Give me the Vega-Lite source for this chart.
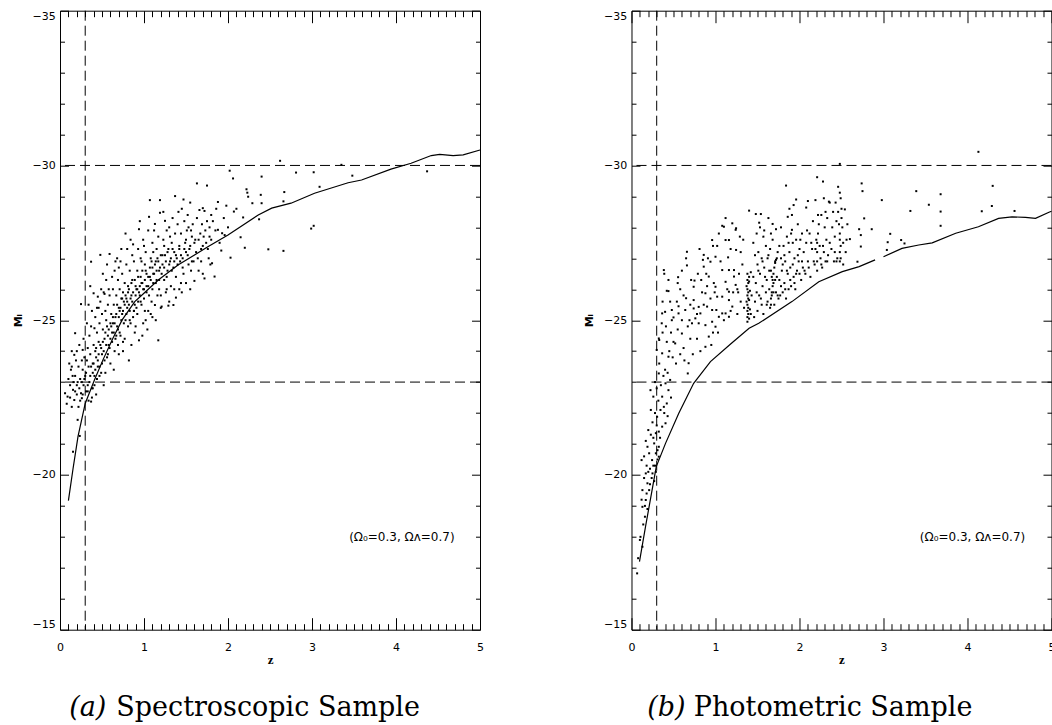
{
"$schema":"https://vega.github.io/schema/vega-lite/v6.json",
"padding":{"left":12,"top":9.7,"right":0,"bottom":0},
"config":{"view":{"stroke":null},"axis":{"grid":false,"labelFont":"DejaVu Sans","labelFontSize":11,"labelColor":"black","tickColor":"black","domainColor":"black","titleColor":"black","tickWidth":1,"domainWidth":1}},
"datasets":{
"thresh":[{"M":-30},{"M":-23}],
"specCurve":[{"z":0.10,"M":-19.17},{"z":0.155,"M":-20.2},{"z":0.214,"M":-21.24},{"z":0.30,"M":-22.31},{"z":0.41,"M":-23.07},{"z":0.51,"M":-23.71},{"z":0.63,"M":-24.42},{"z":0.74,"M":-25.01},{"z":0.89,"M":-25.6},{"z":0.97,"M":-25.8},{"z":1.17,"M":-26.30},{"z":1.405,"M":-26.78},{"z":1.76,"M":-27.37},{"z":2.0,"M":-27.75},{"z":2.36,"M":-28.40},{"z":2.52,"M":-28.62},{"z":2.75,"M":-28.78},{"z":3.03,"M":-29.10},{"z":3.43,"M":-29.44},{"z":3.59,"M":-29.53},{"z":3.94,"M":-29.88},{"z":4.18,"M":-30.07},{"z":4.42,"M":-30.32},{"z":4.52,"M":-30.36},{"z":4.68,"M":-30.32},{"z":4.80,"M":-30.34},{"z":5.0,"M":-30.50}],
"photCurve":[{"z":0.095,"M":-17.2,"seg":1},{"z":0.167,"M":-18.33,"seg":1},{"z":0.245,"M":-19.51,"seg":1},{"z":0.295,"M":-20.27,"seg":1},{"z":0.405,"M":-21.02,"seg":1},{"z":0.563,"M":-21.99,"seg":1},{"z":0.74,"M":-22.96,"seg":1},{"z":0.94,"M":-23.66,"seg":1},{"z":1.18,"M":-24.23,"seg":1},{"z":1.40,"M":-24.74,"seg":1},{"z":1.515,"M":-24.90,"seg":1},{"z":1.91,"M":-25.60,"seg":1},{"z":2.23,"M":-26.24,"seg":1},{"z":2.51,"M":-26.57,"seg":1},{"z":2.71,"M":-26.73,"seg":1},{"z":2.90,"M":-26.95,"seg":1},{"z":3.00,"M":-27.05,"seg":2},{"z":3.22,"M":-27.32,"seg":2},{"z":3.42,"M":-27.43,"seg":2},{"z":3.58,"M":-27.50,"seg":2},{"z":3.86,"M":-27.81,"seg":2},{"z":4.13,"M":-28.02,"seg":2},{"z":4.37,"M":-28.29,"seg":2},{"z":4.53,"M":-28.34,"seg":2},{"z":4.69,"M":-28.32,"seg":2},{"z":4.81,"M":-28.29,"seg":2},{"z":4.97,"M":-28.49,"seg":2},{"z":5.0,"M":-28.52,"seg":2}],
"spec":[
{"z":0.06,"M":-22.64},{"z":0.09,"M":-22.53},{"z":0.12,"M":-22.9},{"z":0.13,"M":-23.4},{"z":0.14,"M":-22.2},{"z":0.155,"M":-22.75},{"z":0.155,"M":-20.75},{"z":0.10,"M":-23.1},{"z":0.08,"M":-22.3},{"z":0.11,"M":-23.6},{"z":0.14,"M":-24.0},{"z":0.17,"M":-23.88},{"z":0.18,"M":-24.58},{"z":0.25,"M":-25.52},{"z":0.27,"M":-24.04},
{"z":0.17,"M":-22.42},{"z":0.21,"M":-21.78},{"z":0.235,"M":-21.26},{"z":0.25,"M":-22.64},{"z":0.26,"M":-22.48},{"z":0.18,"M":-23.2},{"z":0.20,"M":-22.9},{"z":0.22,"M":-23.5},{"z":0.24,"M":-23.1},{"z":0.19,"M":-23.7},{"z":0.27,"M":-23.4},{"z":0.28,"M":-22.9},{"z":0.23,"M":-24.2},{"z":0.29,"M":-23.8},{"z":0.20,"M":-22.6},{"z":0.16,"M":-23.0},{"z":0.26,"M":-23.0},{"z":0.28,"M":-24.4},{"z":0.30,"M":-23.2},{"z":0.22,"M":-22.2},
{"z":0.31,"M":-23.3},{"z":0.32,"M":-23.7},{"z":0.33,"M":-24.1},{"z":0.34,"M":-23.5},{"z":0.35,"M":-24.5},{"z":0.36,"M":-23.9},{"z":0.37,"M":-22.37},{"z":0.38,"M":-22.5},{"z":0.37,"M":-24.8},{"z":0.38,"M":-25.3},{"z":0.39,"M":-23.6},{"z":0.40,"M":-24.2},{"z":0.41,"M":-24.74},{"z":0.40,"M":-25.87},{"z":0.42,"M":-25.1},{"z":0.43,"M":-23.8},{"z":0.44,"M":-24.6},{"z":0.45,"M":-25.76},{"z":0.32,"M":-24.9},{"z":0.34,"M":-25.5},{"z":0.36,"M":-26.1},{"z":0.37,"M":-26.89},{"z":0.39,"M":-22.8},{"z":0.41,"M":-23.2},{"z":0.43,"M":-22.6},{"z":0.44,"M":-25.4},{"z":0.35,"M":-23.0},{"z":0.42,"M":-24.0},{"z":0.33,"M":-22.7},{"z":0.45,"M":-23.5},
{"z":0.46,"M":-24.3},{"z":0.47,"M":-24.9},{"z":0.48,"M":-27.11},{"z":0.48,"M":-25.6},{"z":0.49,"M":-24.1},{"z":0.50,"M":-25.2},{"z":0.50,"M":-23.6},{"z":0.51,"M":-24.7},{"z":0.52,"M":-25.9},{"z":0.53,"M":-25.85},{"z":0.53,"M":-24.4},{"z":0.54,"M":-23.3},{"z":0.55,"M":-25.0},{"z":0.55,"M":-26.3},{"z":0.56,"M":-24.8},{"z":0.57,"M":-25.5},{"z":0.58,"M":-24.2},{"z":0.59,"M":-27.14},{"z":0.59,"M":-25.8},{"z":0.60,"M":-23.6},{"z":0.47,"M":-23.2},{"z":0.52,"M":-22.9},{"z":0.56,"M":-26.8},{"z":0.58,"M":-26.0},{"z":0.46,"M":-25.4},{"z":0.60,"M":-24.9},{"z":0.51,"M":-26.5},{"z":0.54,"M":-25.3},{"z":0.57,"M":-23.9},{"z":0.49,"M":-26.0},
{"z":0.61,"M":-25.2},{"z":0.62,"M":-24.6},{"z":0.63,"M":-26.0},{"z":0.64,"M":-25.5},{"z":0.65,"M":-24.0},{"z":0.65,"M":-26.6},{"z":0.66,"M":-25.1},{"z":0.67,"M":-25.8},{"z":0.68,"M":-27.0},{"z":0.68,"M":-24.8},{"z":0.69,"M":-26.3},{"z":0.70,"M":-25.4},{"z":0.70,"M":-23.9},{"z":0.71,"M":-26.0},{"z":0.72,"M":-24.5},{"z":0.72,"M":-26.9},{"z":0.73,"M":-25.7},{"z":0.74,"M":-25.2},{"z":0.74,"M":-26.5},{"z":0.75,"M":-24.3},{"z":0.62,"M":-26.4},{"z":0.64,"M":-23.4},{"z":0.66,"M":-26.9},{"z":0.69,"M":-24.2},{"z":0.71,"M":-25.3},{"z":0.73,"M":-27.3},{"z":0.67,"M":-24.5},{"z":0.75,"M":-25.9},{"z":0.63,"M":-24.9},{"z":0.70,"M":-26.7},
{"z":0.76,"M":-25.6},{"z":0.77,"M":-26.2},{"z":0.77,"M":-24.4},{"z":0.78,"M":-25.0},{"z":0.79,"M":-26.8},{"z":0.80,"M":-25.4},{"z":0.80,"M":-27.3},{"z":0.81,"M":-24.8},{"z":0.82,"M":-26.0},{"z":0.83,"M":-25.3},{"z":0.83,"M":-26.6},{"z":0.84,"M":-27.6},{"z":0.85,"M":-25.8},{"z":0.85,"M":-24.2},{"z":0.86,"M":-26.3},{"z":0.87,"M":-27.45},{"z":0.87,"M":-25.1},{"z":0.88,"M":-26.9},{"z":0.89,"M":-25.5},{"z":0.89,"M":-24.6},{"z":0.78,"M":-27.8},{"z":0.81,"M":-25.9},{"z":0.84,"M":-24.9},{"z":0.86,"M":-27.1},{"z":0.90,"M":-26.1},{"z":0.79,"M":-25.7},{"z":0.82,"M":-23.7},{"z":0.88,"M":-25.3},
{"z":0.91,"M":-26.0},{"z":0.92,"M":-26.6},{"z":0.92,"M":-25.2},{"z":0.93,"M":-27.3},{"z":0.94,"M":-27.94},{"z":0.94,"M":-24.35},{"z":0.95,"M":-25.8},{"z":0.96,"M":-26.4},{"z":0.96,"M":-27.0},{"z":0.97,"M":-25.5},{"z":0.98,"M":-26.2},{"z":0.99,"M":-27.6},{"z":0.99,"M":-24.9},{"z":1.00,"M":-26.0},{"z":1.01,"M":-26.8},{"z":1.01,"M":-25.3},{"z":1.02,"M":-27.2},{"z":1.03,"M":-25.9},{"z":1.03,"M":-26.5},{"z":1.04,"M":-24.7},{"z":1.05,"M":-27.9},{"z":1.05,"M":-26.1},{"z":0.93,"M":-25.6},{"z":0.97,"M":-26.9},{"z":1.00,"M":-27.4},{"z":1.02,"M":-25.0},{"z":0.95,"M":-28.2},{"z":0.98,"M":-24.5},
{"z":1.06,"M":-28.34},{"z":1.07,"M":-28.88},{"z":1.07,"M":-26.4},{"z":1.08,"M":-27.0},{"z":1.09,"M":-25.6},{"z":1.10,"M":-26.7},{"z":1.10,"M":-27.5},{"z":1.11,"M":-26.2},{"z":1.12,"M":-27.9},{"z":1.13,"M":-28.11},{"z":1.13,"M":-25.49},{"z":1.14,"M":-26.9},{"z":1.15,"M":-26.3},{"z":1.15,"M":-27.3},{"z":1.16,"M":-25.8},{"z":1.17,"M":-24.35},{"z":1.17,"M":-27.7},{"z":1.18,"M":-26.6},{"z":1.19,"M":-28.88},{"z":1.19,"M":-28.47},{"z":1.20,"M":-27.1},{"z":1.20,"M":-25.4},{"z":1.08,"M":-25.2},{"z":1.12,"M":-26.5},{"z":1.16,"M":-27.0},{"z":1.11,"M":-27.2},{"z":1.14,"M":-25.0},{"z":1.18,"M":-26.0},
{"z":1.21,"M":-25.44},{"z":1.22,"M":-26.8},{"z":1.23,"M":-27.6},{"z":1.24,"M":-26.3},{"z":1.25,"M":-28.21},{"z":1.25,"M":-27.1},{"z":1.26,"M":-25.9},{"z":1.27,"M":-27.9},{"z":1.28,"M":-26.6},{"z":1.29,"M":-25.47},{"z":1.29,"M":-27.3},{"z":1.30,"M":-28.0},{"z":1.31,"M":-26.9},{"z":1.32,"M":-26.1},{"z":1.33,"M":-27.5},{"z":1.34,"M":-28.3},{"z":1.35,"M":-25.49},{"z":1.35,"M":-26.7},{"z":1.36,"M":-27.2},{"z":1.37,"M":-29.01},{"z":1.37,"M":-27.8},{"z":1.38,"M":-25.73},{"z":1.38,"M":-26.4},{"z":1.39,"M":-27.0},{"z":1.40,"M":-28.1},{"z":1.23,"M":-28.5},{"z":1.27,"M":-26.0},{"z":1.31,"M":-27.7},{"z":1.36,"M":-26.0},{"z":1.24,"M":-27.4},
{"z":1.41,"M":-28.5},{"z":1.42,"M":-27.3},{"z":1.43,"M":-26.9},{"z":1.44,"M":-27.8},{"z":1.45,"M":-28.6},{"z":1.46,"M":-27.0},{"z":1.47,"M":-26.5},{"z":1.48,"M":-28.2},{"z":1.49,"M":-27.5},{"z":1.50,"M":-26.2},{"z":1.51,"M":-27.9},{"z":1.52,"M":-28.4},{"z":1.53,"M":-26.8},{"z":1.54,"M":-27.3},{"z":1.55,"M":-28.8},{"z":1.56,"M":-26.6},{"z":1.57,"M":-27.7},{"z":1.58,"M":-28.1},{"z":1.59,"M":-26.9},{"z":1.60,"M":-26.27},{"z":1.44,"M":-26.2},{"z":1.50,"M":-27.2},{"z":1.56,"M":-27.9},{"z":1.47,"M":-28.9},{"z":1.53,"M":-28.0},{"z":1.42,"M":-26.0},
{"z":1.61,"M":-27.6},{"z":1.63,"M":-29.42},{"z":1.63,"M":-28.3},{"z":1.64,"M":-27.0},{"z":1.66,"M":-28.56},{"z":1.67,"M":-27.8},{"z":1.68,"M":-26.9},{"z":1.70,"M":-28.62},{"z":1.70,"M":-27.4},{"z":1.72,"M":-28.53},{"z":1.72,"M":-26.35},{"z":1.73,"M":-27.9},{"z":1.75,"M":-29.35},{"z":1.75,"M":-28.2},{"z":1.76,"M":-27.3},{"z":1.78,"M":-28.0},{"z":1.79,"M":-26.8},{"z":1.80,"M":-28.4},{"z":1.80,"M":-27.6},{"z":1.65,"M":-26.6},{"z":1.69,"M":-28.1},{"z":1.77,"M":-27.0},
{"z":1.81,"M":-26.84},{"z":1.82,"M":-28.2},{"z":1.84,"M":-26.41},{"z":1.85,"M":-27.9},{"z":1.86,"M":-28.6},{"z":1.88,"M":-28.82},{"z":1.88,"M":-27.92},{"z":1.90,"M":-27.5},{"z":1.92,"M":-27.25},{"z":1.93,"M":-27.81},{"z":1.95,"M":-28.3},{"z":1.96,"M":-27.75},{"z":1.98,"M":-28.7},{"z":2.00,"M":-28.0},
{"z":2.02,"M":-29.83},{"z":2.03,"M":-27.02},{"z":2.06,"M":-29.58},{"z":2.07,"M":-28.51},{"z":2.10,"M":-28.6},{"z":2.15,"M":-27.68},{"z":2.18,"M":-28.32},{"z":2.20,"M":-27.34},{"z":2.22,"M":-29.23},{"z":2.23,"M":-29.12},{"z":2.24,"M":-28.99},{"z":2.29,"M":-28.78},{"z":2.37,"M":-28.26},{"z":2.39,"M":-29.05},{"z":2.40,"M":-28.78},{"z":2.40,"M":-29.64},{"z":2.48,"M":-27.29},
{"z":2.62,"M":-30.15},{"z":2.66,"M":-28.84},{"z":2.66,"M":-27.24},{"z":2.67,"M":-29.14},{"z":2.81,"M":-29.77},{"z":2.99,"M":-27.96},{"z":3.02,"M":-28.05},{"z":3.02,"M":-29.78},{"z":3.09,"M":-29.31},{"z":3.35,"M":-30.02},{"z":3.48,"M":-29.67},{"z":4.37,"M":-29.81},
{"z":0.33,"M":-22.9},{"z":0.34,"M":-22.4},{"z":0.36,"M":-23.2},{"z":0.37,"M":-23.5},{"z":0.38,"M":-22.8},{"z":0.39,"M":-23.3},{"z":0.40,"M":-23.6},{"z":0.41,"M":-22.9},{"z":0.42,"M":-23.4},{"z":0.43,"M":-24.1},{"z":0.44,"M":-23.1},{"z":0.45,"M":-23.7},{"z":0.46,"M":-23.9},{"z":0.47,"M":-23.5},{"z":0.48,"M":-24.2},{"z":0.49,"M":-23.3},{"z":0.50,"M":-23.9},{"z":0.51,"M":-24.3},{"z":0.52,"M":-24.0},{"z":0.53,"M":-23.7},{"z":0.54,"M":-24.6},{"z":0.55,"M":-24.2},{"z":0.56,"M":-23.8},{"z":0.57,"M":-24.5},{"z":0.58,"M":-24.7},{"z":0.59,"M":-24.1},{"z":0.60,"M":-24.4},{"z":0.61,"M":-24.8},{"z":0.62,"M":-24.3},{"z":0.63,"M":-25.1},{"z":0.64,"M":-24.6},{"z":0.65,"M":-24.9},{"z":0.66,"M":-24.4},{"z":0.67,"M":-25.2},{"z":0.68,"M":-25.5},{"z":0.69,"M":-24.7},{"z":0.70,"M":-25.1},{"z":0.71,"M":-24.6},{"z":0.72,"M":-25.4},{"z":0.73,"M":-25.0},{"z":0.74,"M":-25.7},{"z":0.75,"M":-25.3},{"z":0.76,"M":-24.9},{"z":0.77,"M":-25.5},{"z":0.78,"M":-25.8},{"z":0.79,"M":-25.2},{"z":0.80,"M":-25.6},{"z":0.81,"M":-26.1},{"z":0.82,"M":-25.5},{"z":0.83,"M":-25.0},{"z":0.84,"M":-25.7},{"z":0.85,"M":-26.2},{"z":0.86,"M":-25.6},{"z":0.87,"M":-25.9},{"z":0.88,"M":-25.3},{"z":0.89,"M":-26.3},{"z":0.90,"M":-25.8},{"z":0.91,"M":-25.4},{"z":0.92,"M":-26.0},{"z":0.93,"M":-26.4},{"z":0.94,"M":-25.9},{"z":0.95,"M":-26.1},{"z":0.96,"M":-25.6},{"z":0.97,"M":-26.2},{"z":0.98,"M":-26.6},{"z":0.99,"M":-26.0},{"z":1.00,"M":-25.7},{"z":1.01,"M":-26.3},{"z":1.02,"M":-26.6},{"z":1.03,"M":-26.1},{"z":1.05,"M":-26.4},{"z":1.06,"M":-25.8},{"z":1.07,"M":-26.7},{"z":1.08,"M":-26.3},{"z":1.09,"M":-26.9},{"z":1.10,"M":-26.0},{"z":1.11,"M":-26.5},{"z":1.13,"M":-26.8},{"z":1.14,"M":-26.2},{"z":1.15,"M":-26.6},{"z":1.17,"M":-26.9},{"z":1.18,"M":-26.3},{"z":1.19,"M":-26.7},{"z":1.21,"M":-26.5},{"z":1.22,"M":-27.1},{"z":1.24,"M":-26.7},{"z":1.26,"M":-26.9},{"z":1.27,"M":-26.4},{"z":1.28,"M":-27.2},{"z":1.30,"M":-26.8},{"z":1.32,"M":-27.0},{"z":1.33,"M":-26.6},{"z":1.34,"M":-27.3},{"z":1.36,"M":-26.9},{"z":1.38,"M":-27.1},{"z":1.40,"M":-26.8},{"z":1.42,"M":-27.4},{"z":1.44,"M":-27.1},{"z":1.46,"M":-26.7},{"z":1.48,"M":-27.3},{"z":1.50,"M":-27.6},{"z":1.52,"M":-27.1},{"z":1.55,"M":-27.4},{"z":1.57,"M":-26.9},{"z":1.60,"M":-27.5},{"z":1.62,"M":-27.2},{"z":1.65,"M":-27.6},{"z":1.68,"M":-27.3},{"z":1.71,"M":-27.7},{"z":1.74,"M":-27.5},{"z":1.78,"M":-27.7},
{"z":0.90,"M":-24.8},{"z":1.05,"M":-25.3},{"z":1.20,"M":-25.8},{"z":1.30,"M":-25.6},{"z":1.45,"M":-25.9},{"z":1.55,"M":-26.0},{"z":1.70,"M":-26.5},{"z":0.75,"M":-24.0},{"z":1.10,"M":-25.1},
{"z":0.12,"M":-22.5},{"z":0.15,"M":-23.2},{"z":0.18,"M":-22.7},{"z":0.21,"M":-23.0},{"z":0.24,"M":-22.4},{"z":0.27,"M":-22.6},{"z":0.29,"M":-23.1},{"z":0.31,"M":-22.7},{"z":0.14,"M":-23.5},{"z":0.20,"M":-24.0},{"z":0.23,"M":-22.8},{"z":0.26,"M":-23.7}
],
"phot":[
{"z":0.067,"M":-16.82},{"z":0.079,"M":-17.31},{"z":0.13,"M":-17.68},{"z":0.107,"M":-18.0},{"z":0.16,"M":-18.65},{"z":0.13,"M":-18.97},{"z":0.17,"M":-19.19},{"z":0.13,"M":-19.51},{"z":0.19,"M":-19.73},{"z":0.21,"M":-19.51},{"z":0.17,"M":-20.05},{"z":0.12,"M":-20.48},{"z":0.19,"M":-20.91},{"z":0.20,"M":-21.45},{"z":0.15,"M":-19.9},{"z":0.18,"M":-20.3},{"z":0.14,"M":-18.4},{"z":0.10,"M":-17.9},{"z":0.16,"M":-19.0},{"z":0.20,"M":-20.1},{"z":0.18,"M":-19.4},{"z":0.12,"M":-19.2},{"z":0.19,"M":-18.9},{"z":0.15,"M":-20.6},{"z":0.17,"M":-21.1},
{"z":0.25,"M":-20.05},{"z":0.21,"M":-20.7},{"z":0.245,"M":-20.48},{"z":0.29,"M":-20.7},{"z":0.325,"M":-20.59},{"z":0.27,"M":-21.02},{"z":0.325,"M":-20.91},{"z":0.29,"M":-21.35},{"z":0.325,"M":-21.4},{"z":0.305,"M":-21.88},{"z":0.345,"M":-22.1},{"z":0.26,"M":-22.53},{"z":0.226,"M":-22.74},{"z":0.325,"M":-23.28},{"z":0.325,"M":-24.41},{"z":0.33,"M":-24.36},{"z":0.30,"M":-24.04},{"z":0.23,"M":-21.3},{"z":0.25,"M":-21.7},{"z":0.28,"M":-20.3},{"z":0.31,"M":-20.5},{"z":0.24,"M":-19.9},{"z":0.27,"M":-19.8},{"z":0.22,"M":-20.2},{"z":0.30,"M":-21.6},{"z":0.26,"M":-21.2},{"z":0.28,"M":-22.0},{"z":0.32,"M":-22.4},{"z":0.34,"M":-21.2},{"z":0.23,"M":-22.1},{"z":0.30,"M":-22.8},{"z":0.33,"M":-23.6},{"z":0.28,"M":-23.0},{"z":0.35,"M":-22.9},{"z":0.22,"M":-19.7},{"z":0.26,"M":-20.3},{"z":0.29,"M":-20.1},{"z":0.31,"M":-20.8},
{"z":0.365,"M":-21.56},{"z":0.405,"M":-21.67},{"z":0.385,"M":-22.2},{"z":0.42,"M":-22.31},{"z":0.365,"M":-22.53},{"z":0.44,"M":-22.74},{"z":0.46,"M":-23.07},{"z":0.405,"M":-22.96},{"z":0.365,"M":-23.93},{"z":0.44,"M":-23.82},{"z":0.365,"M":-25.22},{"z":0.48,"M":-25.0},{"z":0.385,"M":-26.62},{"z":0.42,"M":-25.95},{"z":0.39,"M":-26.5},{"z":0.44,"M":-25.94},{"z":0.40,"M":-25.27},{"z":0.48,"M":-25.33},{"z":0.50,"M":-25.09},{"z":0.37,"M":-24.6},{"z":0.40,"M":-23.4},{"z":0.42,"M":-24.3},{"z":0.45,"M":-24.0},{"z":0.47,"M":-24.6},{"z":0.38,"M":-23.2},{"z":0.43,"M":-23.3},{"z":0.49,"M":-23.8},{"z":0.36,"M":-24.9},{"z":0.41,"M":-24.8},{"z":0.46,"M":-25.6},{"z":0.39,"M":-22.0},{"z":0.43,"M":-21.9},{"z":0.47,"M":-22.5},{"z":0.50,"M":-24.3},{"z":0.44,"M":-26.3},{"z":0.37,"M":-25.6},
{"z":0.52,"M":-24.25},{"z":0.60,"M":-24.57},{"z":0.68,"M":-23.61},{"z":0.67,"M":-23.28},{"z":0.56,"M":-25.45},{"z":0.555,"M":-26.39},{"z":0.55,"M":-26.2},{"z":0.66,"M":-27.21},{"z":0.65,"M":-27.0},{"z":0.66,"M":-26.77},{"z":0.74,"M":-26.08},{"z":0.75,"M":-26.28},{"z":0.65,"M":-25.71},{"z":0.74,"M":-25.65},{"z":0.56,"M":-25.22},{"z":0.64,"M":-25.33},{"z":0.74,"M":-25.38},{"z":0.60,"M":-25.0},{"z":0.76,"M":-25.06},{"z":0.78,"M":-25.2},{"z":0.53,"M":-23.6},{"z":0.58,"M":-23.9},{"z":0.62,"M":-24.1},{"z":0.70,"M":-24.4},{"z":0.72,"M":-24.9},{"z":0.55,"M":-24.7},{"z":0.63,"M":-23.7},{"z":0.69,"M":-25.0},{"z":0.58,"M":-26.0},{"z":0.62,"M":-25.8},{"z":0.71,"M":-26.3},{"z":0.54,"M":-25.6},{"z":0.67,"M":-24.8},{"z":0.73,"M":-23.9},{"z":0.60,"M":-26.6},{"z":0.70,"M":-25.5},
{"z":0.80,"M":-25.43},{"z":0.88,"M":-24.14},{"z":0.92,"M":-24.47},{"z":0.86,"M":-27.11},{"z":0.85,"M":-26.95},{"z":0.96,"M":-27.59},{"z":0.97,"M":-27.4},{"z":0.86,"M":-26.73},{"z":0.94,"M":-26.89},{"z":0.92,"M":-26.41},{"z":0.88,"M":-25.87},{"z":0.82,"M":-25.22},{"z":0.90,"M":-25.44},{"z":0.96,"M":-25.33},{"z":0.80,"M":-24.9},{"z":0.88,"M":-24.84},{"z":0.96,"M":-24.95},{"z":0.78,"M":-24.4},{"z":0.82,"M":-24.0},{"z":0.84,"M":-25.9},{"z":0.90,"M":-26.1},{"z":0.98,"M":-26.2},{"z":0.79,"M":-26.5},{"z":0.83,"M":-26.3},{"z":0.94,"M":-25.7},{"z":0.97,"M":-24.6},{"z":0.86,"M":-25.5},{"z":0.99,"M":-25.9},{"z":0.81,"M":-27.3},{"z":0.91,"M":-27.0},{"z":0.95,"M":-24.2},{"z":0.89,"M":-26.5},
{"z":1.00,"M":-24.79},{"z":1.01,"M":-25.33},{"z":1.08,"M":-25.22},{"z":1.10,"M":-25.0},{"z":1.02,"M":-27.40},{"z":1.10,"M":-28.02},{"z":1.12,"M":-27.59},{"z":1.16,"M":-27.59},{"z":1.20,"M":-28.13},{"z":1.245,"M":-27.97},{"z":1.245,"M":-27.27},{"z":1.00,"M":-27.05},{"z":1.08,"M":-26.62},{"z":1.16,"M":-26.62},{"z":1.22,"M":-26.62},{"z":1.00,"M":-26.08},{"z":1.12,"M":-26.24},{"z":1.16,"M":-25.92},{"z":1.22,"M":-26.41},{"z":1.24,"M":-26.14},{"z":1.02,"M":-25.76},{"z":1.08,"M":-25.76},{"z":1.16,"M":-25.65},{"z":1.20,"M":-25.44},{"z":1.04,"M":-25.11},{"z":1.12,"M":-25.22},{"z":1.16,"M":-25.11},{"z":1.03,"M":-24.6},{"z":1.08,"M":-28.05},{"z":1.15,"M":-27.03},{"z":1.24,"M":-27.92},{"z":1.06,"M":-26.9},{"z":1.14,"M":-26.0},{"z":1.18,"M":-25.3},{"z":1.26,"M":-25.2},{"z":1.28,"M":-26.5},{"z":1.30,"M":-27.2},{"z":1.04,"M":-27.8},{"z":1.27,"M":-25.9},{"z":1.12,"M":-28.3},
{"z":1.38,"M":-24.95},{"z":1.38,"M":-25.1},{"z":1.39,"M":-25.2},{"z":1.38,"M":-25.3},{"z":1.39,"M":-25.4},{"z":1.38,"M":-25.5},{"z":1.37,"M":-25.6},{"z":1.39,"M":-25.7},{"z":1.38,"M":-25.8},{"z":1.39,"M":-25.9},{"z":1.38,"M":-26.0},{"z":1.37,"M":-26.1},{"z":1.39,"M":-26.2},{"z":1.38,"M":-26.3},{"z":1.40,"M":-26.4},{"z":1.38,"M":-26.5},{"z":1.40,"M":-25.05},{"z":1.41,"M":-25.35},{"z":1.40,"M":-25.65},{"z":1.41,"M":-25.95},{"z":1.40,"M":-26.25},{"z":1.42,"M":-26.55},{"z":1.40,"M":-28.54},{"z":1.43,"M":-25.8},{"z":1.42,"M":-25.2},
{"z":1.48,"M":-28.43},{"z":1.54,"M":-28.43},{"z":1.52,"M":-28.15},{"z":1.57,"M":-27.70},{"z":1.68,"M":-28.11},{"z":1.72,"M":-27.94},{"z":1.46,"M":-25.1},{"z":1.47,"M":-25.6},{"z":1.48,"M":-26.2},{"z":1.50,"M":-25.3},{"z":1.50,"M":-26.8},{"z":1.51,"M":-27.2},{"z":1.52,"M":-25.8},{"z":1.53,"M":-26.5},{"z":1.55,"M":-25.5},{"z":1.55,"M":-27.0},{"z":1.56,"M":-26.1},{"z":1.57,"M":-25.2},{"z":1.58,"M":-26.7},{"z":1.60,"M":-25.9},{"z":1.60,"M":-27.4},{"z":1.61,"M":-26.3},{"z":1.62,"M":-25.6},{"z":1.63,"M":-27.1},{"z":1.64,"M":-26.0},{"z":1.65,"M":-25.4},{"z":1.66,"M":-26.6},{"z":1.67,"M":-25.8},{"z":1.68,"M":-27.6},{"z":1.69,"M":-26.2},{"z":1.70,"M":-25.5},{"z":1.71,"M":-26.9},{"z":1.72,"M":-25.9},{"z":1.73,"M":-26.4},{"z":1.74,"M":-27.2},{"z":1.75,"M":-25.7},{"z":1.45,"M":-27.5},{"z":1.49,"M":-27.8},{"z":1.53,"M":-28.0},{"z":1.58,"M":-27.9},{"z":1.63,"M":-28.3},{"z":1.66,"M":-27.8},
{"z":1.66,"M":-25.7},{"z":1.67,"M":-25.9},{"z":1.68,"M":-26.1},{"z":1.68,"M":-26.3},{"z":1.69,"M":-26.5},{"z":1.70,"M":-26.7},{"z":1.71,"M":-26.85},{"z":1.72,"M":-26.95},{"z":1.66,"M":-25.5},
{"z":1.84,"M":-29.35},{"z":1.86,"M":-28.34},{"z":1.91,"M":-27.92},{"z":1.93,"M":-28.72},{"z":1.76,"M":-26.3},{"z":1.77,"M":-25.8},{"z":1.78,"M":-27.0},{"z":1.79,"M":-26.6},{"z":1.80,"M":-25.9},{"z":1.81,"M":-27.4},{"z":1.82,"M":-26.2},{"z":1.83,"M":-26.9},{"z":1.84,"M":-25.7},{"z":1.85,"M":-27.7},{"z":1.86,"M":-26.5},{"z":1.87,"M":-26.0},{"z":1.88,"M":-27.2},{"z":1.89,"M":-26.7},{"z":1.90,"M":-26.1},{"z":1.91,"M":-28.4},{"z":1.92,"M":-27.5},{"z":1.93,"M":-26.4},{"z":1.94,"M":-27.0},{"z":1.95,"M":-26.0},{"z":1.96,"M":-27.6},{"z":1.97,"M":-26.6},{"z":1.98,"M":-28.1},{"z":1.99,"M":-26.9},{"z":2.00,"M":-27.3},{"z":2.02,"M":-26.3},{"z":2.03,"M":-27.8},{"z":2.04,"M":-26.7},{"z":1.78,"M":-28.0},{"z":1.88,"M":-28.6},{"z":1.96,"M":-28.9},
{"z":2.08,"M":-28.64},{"z":2.10,"M":-28.85},{"z":2.19,"M":-28.88},{"z":2.21,"M":-29.62},{"z":2.28,"M":-29.48},{"z":2.29,"M":-28.94},{"z":2.06,"M":-26.6},{"z":2.08,"M":-27.5},{"z":2.10,"M":-26.9},{"z":2.12,"M":-27.8},{"z":2.13,"M":-26.4},{"z":2.15,"M":-27.3},{"z":2.16,"M":-28.2},{"z":2.18,"M":-26.8},{"z":2.20,"M":-27.6},{"z":2.21,"M":-26.6},{"z":2.21,"M":-26.9},{"z":2.21,"M":-27.2},{"z":2.21,"M":-27.5},{"z":2.22,"M":-27.8},{"z":2.23,"M":-28.1},{"z":2.25,"M":-27.0},{"z":2.26,"M":-28.4},{"z":2.27,"M":-26.7},{"z":2.28,"M":-27.4},{"z":2.30,"M":-28.0},{"z":2.31,"M":-26.9},{"z":2.32,"M":-27.6},{"z":2.33,"M":-28.3},{"z":2.34,"M":-27.1},{"z":2.35,"M":-28.83},
{"z":2.36,"M":-28.8},{"z":2.38,"M":-27.3},{"z":2.40,"M":-28.5},{"z":2.41,"M":-26.9},{"z":2.42,"M":-27.7},{"z":2.44,"M":-28.2},{"z":2.45,"M":-27.0},{"z":2.46,"M":-29.31},{"z":2.48,"M":-30.05},{"z":2.48,"M":-29.12},{"z":2.49,"M":-28.94},{"z":2.48,"M":-27.8},{"z":2.48,"M":-27.6},{"z":2.49,"M":-27.4},{"z":2.48,"M":-27.2},{"z":2.49,"M":-27.0},{"z":2.48,"M":-26.9},{"z":2.50,"M":-28.6},{"z":2.50,"M":-28.3},{"z":2.51,"M":-28.0},{"z":2.52,"M":-27.5},{"z":2.54,"M":-28.58},{"z":2.55,"M":-27.2},{"z":2.57,"M":-28.1},{"z":2.60,"M":-27.62},{"z":2.43,"M":-28.8},{"z":2.46,"M":-28.5},
{"z":2.69,"M":-26.89},{"z":2.71,"M":-27.94},{"z":2.73,"M":-27.75},{"z":2.73,"M":-27.38},{"z":2.74,"M":-29.42},{"z":2.75,"M":-29.17},{"z":2.77,"M":-28.29},{"z":2.86,"M":-27.94},{"z":2.98,"M":-28.88},
{"z":3.04,"M":-27.27},{"z":3.05,"M":-27.52},{"z":3.08,"M":-27.79},{"z":3.21,"M":-27.59},{"z":3.25,"M":-27.48},{"z":3.32,"M":-28.53},{"z":3.39,"M":-29.17},{"z":3.54,"M":-28.73},{"z":3.68,"M":-29.07},{"z":3.68,"M":-28.51},{"z":3.68,"M":-28.05},{"z":4.13,"M":-30.44},{"z":4.17,"M":-28.52},{"z":4.29,"M":-28.69},{"z":4.30,"M":-29.34},{"z":4.56,"M":-28.53},
{"z":1.45,"M":-26.4},{"z":1.47,"M":-27.1},{"z":1.49,"M":-25.9},{"z":1.51,"M":-26.6},{"z":1.54,"M":-25.7},{"z":1.56,"M":-26.9},{"z":1.59,"M":-26.4},{"z":1.61,"M":-25.5},{"z":1.62,"M":-27.0},{"z":1.64,"M":-26.6},{"z":1.65,"M":-27.3},{"z":1.67,"M":-26.4},{"z":1.69,"M":-25.9},{"z":1.71,"M":-26.3},{"z":1.73,"M":-27.0},{"z":1.74,"M":-25.8},{"z":1.76,"M":-27.4},{"z":1.78,"M":-26.1},{"z":1.80,"M":-26.8},{"z":1.82,"M":-27.1},{"z":1.83,"M":-26.0},{"z":1.85,"M":-26.6},{"z":1.87,"M":-27.5},{"z":1.89,"M":-26.3},{"z":1.90,"M":-27.8},{"z":1.92,"M":-26.8},{"z":1.94,"M":-26.2},{"z":1.96,"M":-26.5},{"z":1.98,"M":-27.1},{"z":2.00,"M":-26.5},{"z":2.01,"M":-27.6},{"z":2.03,"M":-26.9},{"z":2.05,"M":-27.2},{"z":2.07,"M":-26.5},{"z":2.09,"M":-27.9},{"z":2.11,"M":-26.7},{"z":2.14,"M":-27.5},{"z":2.17,"M":-26.9},{"z":2.19,"M":-27.3},{"z":2.22,"M":-28.4},{"z":2.24,"M":-27.4},{"z":2.26,"M":-26.8},{"z":2.29,"M":-27.2},{"z":2.31,"M":-28.5},{"z":2.33,"M":-26.9},{"z":2.36,"M":-27.5},{"z":2.39,"M":-28.0},{"z":2.42,"M":-27.2},{"z":2.44,"M":-26.9},{"z":2.47,"M":-28.1},{"z":2.52,"M":-26.8},{"z":2.56,"M":-27.6},{"z":1.30,"M":-25.6},{"z":1.32,"M":-26.8},{"z":1.34,"M":-25.4},{"z":1.33,"M":-27.6},{"z":1.26,"M":-26.0},{"z":1.29,"M":-27.7},{"z":1.21,"M":-25.9},{"z":1.18,"M":-27.3}
]
},
"spacing":99.5,
"hconcat":[
{
"width":420,"height":619,
"layer":[
{"data":{"name":"spec"},"mark":{"type":"square","size":4,"color":"black","opacity":1},
"encoding":{
"x":{"field":"z","type":"quantitative","scale":{"domain":[0,5],"nice":false,"zero":false},"axis":{"orient":"bottom","values":[0,1,2,3,4,5],"format":"d","tickSize":-12,"labelPadding":24,"labelFlush":false,"title":"z","titleFont":"Liberation Serif","titleFontSize":13,"titleFontWeight":"bold","titlePadding":1}},
"y":{"field":"M","type":"quantitative","scale":{"domain":[-35,-15],"reverse":true,"nice":false,"zero":false},"axis":{"orient":"left","values":[-35,-30,-25,-20,-15],"format":"d","tickSize":-8.5,"labelPadding":13.2,"labelFlush":true,"title":"Mᵢ","titleFont":"DejaVu Sans","titleFontSize":11,"titlePadding":9}}}},
{"data":{"name":"specCurve"},"mark":{"type":"line","color":"black","strokeWidth":1.2},
"encoding":{
"x":{"field":"z","type":"quantitative","scale":{"domain":[0,5],"nice":false,"zero":false},"axis":{"orient":"top","values":[0,1,2,3,4,5],"tickSize":-12,"labels":false,"title":null}},
"y":{"field":"M","type":"quantitative","scale":{"domain":[-35,-15],"reverse":true,"nice":false,"zero":false},"axis":{"orient":"right","values":[-35,-30,-25,-20,-15],"tickSize":-8.5,"labels":false,"title":null}}}},
{"data":{"name":"specCurve"},"mark":{"type":"point","opacity":0},
"encoding":{
"x":{"field":"z","type":"quantitative","scale":{"domain":[0,5],"nice":false,"zero":false},"axis":{"orient":"bottom","values":[0.1,0.2,0.3,0.4,0.5,0.6,0.7,0.8,0.9,1.1,1.2,1.3,1.4,1.5,1.6,1.7,1.8,1.9,2.1,2.2,2.3,2.4,2.5,2.6,2.7,2.8,2.9,3.1,3.2,3.3,3.4,3.5,3.6,3.7,3.8,3.9,4.1,4.2,4.3,4.4,4.5,4.6,4.7,4.8,4.9],"tickSize":-6,"labels":false,"domain":false,"title":null}},
"y":{"field":"M","type":"quantitative","scale":{"domain":[-35,-15],"reverse":true,"nice":false,"zero":false},"axis":{"orient":"left","values":[-34,-33,-32,-31,-29,-28,-27,-26,-24,-23,-22,-21,-19,-18,-17,-16],"tickSize":-4.5,"labels":false,"domain":false,"title":null}}}},
{"data":{"name":"specCurve"},"mark":{"type":"point","opacity":0},
"encoding":{
"x":{"field":"z","type":"quantitative","scale":{"domain":[0,5],"nice":false,"zero":false},"axis":{"orient":"top","values":[0.1,0.2,0.3,0.4,0.5,0.6,0.7,0.8,0.9,1.1,1.2,1.3,1.4,1.5,1.6,1.7,1.8,1.9,2.1,2.2,2.3,2.4,2.5,2.6,2.7,2.8,2.9,3.1,3.2,3.3,3.4,3.5,3.6,3.7,3.8,3.9,4.1,4.2,4.3,4.4,4.5,4.6,4.7,4.8,4.9],"tickSize":-6,"labels":false,"domain":false,"title":null}},
"y":{"field":"M","type":"quantitative","scale":{"domain":[-35,-15],"reverse":true,"nice":false,"zero":false},"axis":{"orient":"right","values":[-34,-33,-32,-31,-29,-28,-27,-26,-24,-23,-22,-21,-19,-18,-17,-16],"tickSize":-4.5,"labels":false,"domain":false,"title":null}}}},
{"data":{"name":"thresh"},"mark":{"type":"rule","color":"black","strokeWidth":1,"strokeDash":[10,5]},
"encoding":{"y":{"field":"M","type":"quantitative","axis":null}}},
{"data":{"values":[{}]},"mark":{"type":"rule","color":"black","strokeWidth":1,"strokeDash":[10,5]},
"encoding":{"x":{"datum":0.3,"type":"quantitative","axis":null}}},
{"data":{"values":[{}]},"mark":{"type":"text","font":"DejaVu Sans","fontSize":12,"color":"black","align":"center","baseline":"middle"},
"encoding":{"x":{"datum":4.07,"type":"quantitative","axis":null},"y":{"datum":-18.0,"type":"quantitative","axis":null},"text":{"value":"(Ω₀=0.3, Ωᴧ=0.7)"}}},
{"data":{"values":[{}]},"mark":{"type":"text","font":"DejaVu Serif","fontSize":27,"fontStyle":"italic","color":"black","align":"right","baseline":"alphabetic"},
"encoding":{"x":{"datum":0.551,"type":"quantitative","axis":null},"y":{"datum":-12.2,"type":"quantitative","axis":null},"text":{"value":"(a)"}}},
{"data":{"values":[{}]},"mark":{"type":"text","font":"DejaVu Serif","fontSize":27,"color":"black","align":"left","baseline":"alphabetic"},
"encoding":{"x":{"datum":0.67,"type":"quantitative","axis":null},"y":{"datum":-12.2,"type":"quantitative","axis":null},"text":{"value":"Spectroscopic Sample"}}}
],
"resolve":{"axis":{"x":"independent","y":"independent"}}
},
{
"width":420,"height":619,
"layer":[
{"data":{"name":"phot"},"mark":{"type":"square","size":4,"color":"black","opacity":1},
"encoding":{
"x":{"field":"z","type":"quantitative","scale":{"domain":[0,5],"nice":false,"zero":false},"axis":{"orient":"bottom","values":[0,1,2,3,4,5],"format":"d","tickSize":-12,"labelPadding":24,"labelFlush":false,"title":"z","titleFont":"Liberation Serif","titleFontSize":13,"titleFontWeight":"bold","titlePadding":1}},
"y":{"field":"M","type":"quantitative","scale":{"domain":[-35,-15],"reverse":true,"nice":false,"zero":false},"axis":{"orient":"left","values":[-35,-30,-25,-20,-15],"format":"d","tickSize":-8.5,"labelPadding":13.2,"labelFlush":true,"title":"Mᵢ","titleFont":"DejaVu Sans","titleFontSize":11,"titlePadding":9}}}},
{"data":{"name":"photCurve"},"mark":{"type":"line","color":"black","strokeWidth":1.2},
"encoding":{
"x":{"field":"z","type":"quantitative","scale":{"domain":[0,5],"nice":false,"zero":false},"axis":{"orient":"top","values":[0,1,2,3,4,5],"tickSize":-12,"labels":false,"title":null}},
"y":{"field":"M","type":"quantitative","scale":{"domain":[-35,-15],"reverse":true,"nice":false,"zero":false},"axis":{"orient":"right","values":[-35,-30,-25,-20,-15],"tickSize":-8.5,"labels":false,"title":null}},
"detail":{"field":"seg","type":"nominal"}}},
{"data":{"name":"photCurve"},"mark":{"type":"point","opacity":0},
"encoding":{
"x":{"field":"z","type":"quantitative","scale":{"domain":[0,5],"nice":false,"zero":false},"axis":{"orient":"bottom","values":[0.1,0.2,0.3,0.4,0.5,0.6,0.7,0.8,0.9,1.1,1.2,1.3,1.4,1.5,1.6,1.7,1.8,1.9,2.1,2.2,2.3,2.4,2.5,2.6,2.7,2.8,2.9,3.1,3.2,3.3,3.4,3.5,3.6,3.7,3.8,3.9,4.1,4.2,4.3,4.4,4.5,4.6,4.7,4.8,4.9],"tickSize":-6,"labels":false,"domain":false,"title":null}},
"y":{"field":"M","type":"quantitative","scale":{"domain":[-35,-15],"reverse":true,"nice":false,"zero":false},"axis":{"orient":"left","values":[-34,-33,-32,-31,-29,-28,-27,-26,-24,-23,-22,-21,-19,-18,-17,-16],"tickSize":-4.5,"labels":false,"domain":false,"title":null}}}},
{"data":{"name":"photCurve"},"mark":{"type":"point","opacity":0},
"encoding":{
"x":{"field":"z","type":"quantitative","scale":{"domain":[0,5],"nice":false,"zero":false},"axis":{"orient":"top","values":[0.1,0.2,0.3,0.4,0.5,0.6,0.7,0.8,0.9,1.1,1.2,1.3,1.4,1.5,1.6,1.7,1.8,1.9,2.1,2.2,2.3,2.4,2.5,2.6,2.7,2.8,2.9,3.1,3.2,3.3,3.4,3.5,3.6,3.7,3.8,3.9,4.1,4.2,4.3,4.4,4.5,4.6,4.7,4.8,4.9],"tickSize":-6,"labels":false,"domain":false,"title":null}},
"y":{"field":"M","type":"quantitative","scale":{"domain":[-35,-15],"reverse":true,"nice":false,"zero":false},"axis":{"orient":"right","values":[-34,-33,-32,-31,-29,-28,-27,-26,-24,-23,-22,-21,-19,-18,-17,-16],"tickSize":-4.5,"labels":false,"domain":false,"title":null}}}},
{"data":{"name":"thresh"},"mark":{"type":"rule","color":"black","strokeWidth":1,"strokeDash":[10,5]},
"encoding":{"y":{"field":"M","type":"quantitative","axis":null}}},
{"data":{"values":[{}]},"mark":{"type":"rule","color":"black","strokeWidth":1,"strokeDash":[10,5]},
"encoding":{"x":{"datum":0.3,"type":"quantitative","axis":null}}},
{"data":{"values":[{}]},"mark":{"type":"text","font":"DejaVu Sans","fontSize":12,"color":"black","align":"center","baseline":"middle"},
"encoding":{"x":{"datum":4.06,"type":"quantitative","axis":null},"y":{"datum":-18.0,"type":"quantitative","axis":null},"text":{"value":"(Ω₀=0.3, Ωᴧ=0.7)"}}},
{"data":{"values":[{}]},"mark":{"type":"text","font":"DejaVu Serif","fontSize":27,"fontStyle":"italic","color":"black","align":"right","baseline":"alphabetic"},
"encoding":{"x":{"datum":0.643,"type":"quantitative","axis":null},"y":{"datum":-12.2,"type":"quantitative","axis":null},"text":{"value":"(b)"}}},
{"data":{"values":[{}]},"mark":{"type":"text","font":"DejaVu Serif","fontSize":27,"color":"black","align":"left","baseline":"alphabetic"},
"encoding":{"x":{"datum":0.742,"type":"quantitative","axis":null},"y":{"datum":-12.2,"type":"quantitative","axis":null},"text":{"value":"Photometric Sample"}}}
],
"resolve":{"axis":{"x":"independent","y":"independent"}}
}
]
}
